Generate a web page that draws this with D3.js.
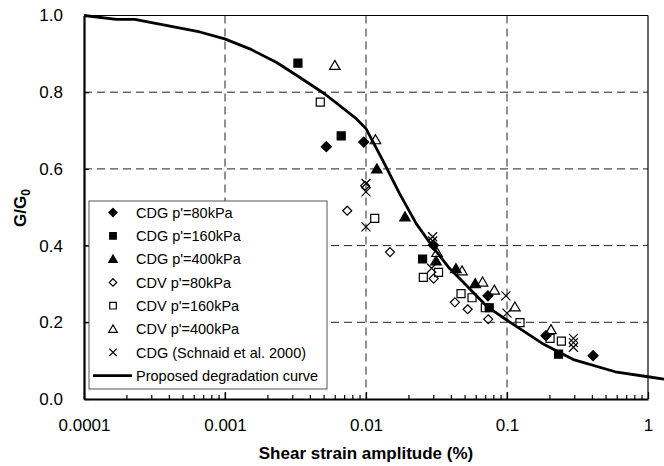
<!DOCTYPE html>
<html><head><meta charset="utf-8">
<script src="https://cdn.jsdelivr.net/npm/d3@7"></script>
<style>
body{margin:0;background:#fff;}
svg{display:block;font-family:"Liberation Sans",Arial,sans-serif;}
</style></head>
<body><svg id="c" width="664" height="466"></svg>
<script>
// ---- data: [shear strain amplitude (%), G/G0] ----
const cdg80  = [[0.00523,0.658],[0.00964,0.670],[0.0301,0.401],[0.0733,0.269],[0.189,0.165],[0.408,0.113]];
const cdg160 = [[0.00329,0.876],[0.00667,0.686],[0.0252,0.365],[0.0748,0.238],[0.232,0.117]];
const cdg400 = [[0.01194,0.600],[0.0189,0.475],[0.0314,0.360],[0.0434,0.340],[0.0595,0.301]];
const cdv80  = [[0.00736,0.491],[0.00986,0.556],[0.0148,0.383],[0.0302,0.314],[0.0427,0.252],[0.0526,0.234],[0.0736,0.208]];
const cdv160 = [[0.00474,0.774],[0.01153,0.471],[0.0255,0.317],[0.0327,0.330],[0.0472,0.275],[0.0565,0.264],[0.0702,0.238],[0.1236,0.199],[0.202,0.158],[0.243,0.151]];
const cdv400 = [[0.00601,0.870],[0.01167,0.676],[0.0319,0.382],[0.048,0.334],[0.0671,0.305],[0.0813,0.284],[0.1138,0.240],[0.205,0.181]];
const schnaid = [[0.01,0.562],[0.01,0.540],[0.01,0.449],[0.0297,0.423],[0.0297,0.412],[0.0292,0.341],[0.0982,0.269],[0.1,0.224],[0.296,0.158],[0.296,0.147],[0.296,0.135]];
const curve = [[0.0001,1.0],[0.00017,0.990],[0.000229,0.990],[0.000663,0.957],[0.000995,0.939],[0.0015,0.913],[0.00231,0.878],[0.00338,0.839],[0.00508,0.796],[0.00853,0.731],[0.01,0.705],[0.01315,0.622],[0.01727,0.536],[0.02266,0.458],[0.0297,0.397],[0.0392,0.340],[0.0512,0.297],[0.0727,0.240],[0.0995,0.206],[0.178,0.145],[0.3,0.102],[0.585,0.071],[1.0,0.058],[1.3,0.052]];
const yTicks = [0,0.2,0.4,0.6,0.8,1.0];
const xTicks = [0.0001,0.001,0.01,0.1,1];
const xTickLabels = ["0.0001","0.001","0.01","0.1","1"];
const legendLabels = ["CDG p'=80kPa","CDG p'=160kPa","CDG p'=400kPa","CDV p'=80kPa","CDV p'=160kPa","CDV p'=400kPa","CDG (Schnaid et al. 2000)","Proposed degradation curve"];

const svg = d3.select("#c");
const x = d3.scaleLog().domain([1e-4,1]).range([84,648]);
const y = d3.scaleLinear().domain([0,1]).range([399,15.5]);

// gridlines
const g = svg.append("g");
g.selectAll(".hg").data([0.2,0.4,0.6,0.8]).join("line")
  .attr("x1",x(1e-4)).attr("x2",x(1)).attr("y1",d=>y(d)).attr("y2",d=>y(d))
  .attr("stroke","#222").attr("stroke-width",1).attr("stroke-dasharray","8,5");
g.selectAll(".vg").data([0.001,0.01,0.1]).join("line")
  .attr("y1",y(1)).attr("y2",y(0)).attr("x1",d=>x(d)).attr("x2",d=>x(d))
  .attr("stroke","#222").attr("stroke-width",1).attr("stroke-dasharray","8,5");
// top/right border
svg.append("line").attr("x1",x(1e-4)).attr("x2",x(1)).attr("y1",y(1)).attr("y2",y(1)).attr("stroke","#000").attr("stroke-width",1.2);
svg.append("line").attr("x1",x(1)).attr("x2",x(1)).attr("y1",y(1)).attr("y2",y(0)).attr("stroke","#000").attr("stroke-width",1.2);

// axes
const ya = svg.append("g").attr("transform",`translate(${x(1e-4)},0)`)
  .call(d3.axisLeft(y).tickValues(yTicks).tickFormat(d3.format(".1f")).tickSizeInner(-5).tickSizeOuter(0).tickPadding(21));
const xa = svg.append("g").attr("transform",`translate(0,${y(0)})`)
  .call(d3.axisBottom(x).tickValues(xTicks).tickFormat((d,i)=>xTickLabels[i]).tickSizeInner(-7).tickSizeOuter(0).tickPadding(20));
const minors=[];
for(let e=-4;e<0;e++) for(let k=2;k<=9;k++) minors.push(k*Math.pow(10,e));
svg.append("g").attr("transform",`translate(0,${y(0)})`)
  .call(d3.axisBottom(x).tickValues(minors).tickFormat("").tickSizeInner(-4).tickSizeOuter(0))
  .select(".domain").remove();
[ya,xa].forEach(a=>{
  a.select(".domain").attr("stroke","#000").attr("stroke-width",2.2);
  a.selectAll(".tick text").attr("font-size",17).attr("fill","#000").attr("font-family","Liberation Sans, Arial, sans-serif");
});
svg.selectAll(".tick line").attr("stroke","#000").attr("stroke-width",1.2);

// marker paths
function diamond(cx,cy,r){return `M${cx},${cy-r}L${cx+r},${cy}L${cx},${cy+r}L${cx-r},${cy}Z`;}
function square(cx,cy,r){return `M${cx-r},${cy-r}H${cx+r}V${cy+r}H${cx-r}Z`;}
function tri(cx,cy,r){return `M${cx},${cy-r}L${cx+r*1.05},${cy+r*0.8}L${cx-r*1.05},${cy+r*0.8}Z`;}
function cross(cx,cy,r){return `M${cx-r},${cy-r}L${cx+r},${cy+r}M${cx+r},${cy-r}L${cx-r},${cy+r}`;}
const series = [
  {data:cdg80, shape:diamond, r:5, fill:"#000"},
  {data:cdg160, shape:square, r:4, fill:"#000"},
  {data:cdg400, shape:tri, r:5, fill:"#000"},
  {data:cdv80, shape:diamond, r:4.5, fill:"none"},
  {data:cdv160, shape:square, r:4, fill:"none"},
  {data:cdv400, shape:tri, r:5, fill:"none"},
  {data:schnaid, shape:cross, r:4.5, fill:"none"}
];

// curve
svg.append("path").datum(curve)
  .attr("d",d3.line().x(d=>x(d[0])).y(d=>y(d[1])))
  .attr("fill","none").attr("stroke","#000").attr("stroke-width",2.8).attr("stroke-linejoin","round");

series.forEach(s=>{
  svg.append("g").selectAll("path").data(s.data).join("path")
    .attr("d",d=>s.shape(x(d[0]),y(d[1]),s.r))
    .attr("fill",s.fill).attr("stroke","#000").attr("stroke-width",1.2);
});

// legend
const lg = svg.append("g");
lg.append("rect").attr("x",89).attr("y",201).attr("width",238).attr("height",188)
  .attr("fill","#fff").attr("stroke","#555").attr("stroke-width",1);
legendLabels.forEach((t,i)=>{
  const cy = 212.5 + i*23.3;
  if(i<7){
    const s=series[i];
    lg.append("path").attr("d",s.shape(113,cy,s.r*0.82)).attr("fill",s.fill).attr("stroke","#000").attr("stroke-width",1.2);
  } else {
    lg.append("line").attr("x1",93).attr("x2",132).attr("y1",cy).attr("y2",cy).attr("stroke","#000").attr("stroke-width",2.8);
  }
  lg.append("text").attr("x",136).attr("y",cy).attr("dy","0.36em").attr("font-size",14.5).attr("fill","#000").text(t);
});

// axis titles
svg.append("text").attr("x",366).attr("y",459).attr("text-anchor","middle")
  .attr("font-size",17).attr("font-weight","bold").text("Shear strain amplitude (%)");
const yt = svg.append("text").attr("transform","translate(26,208) rotate(-90)").attr("text-anchor","middle")
  .attr("font-size",17).attr("font-weight","bold");
yt.append("tspan").text("G/G");
yt.append("tspan").attr("font-size",12).attr("dy",4).text("0");
</script></body></html>
